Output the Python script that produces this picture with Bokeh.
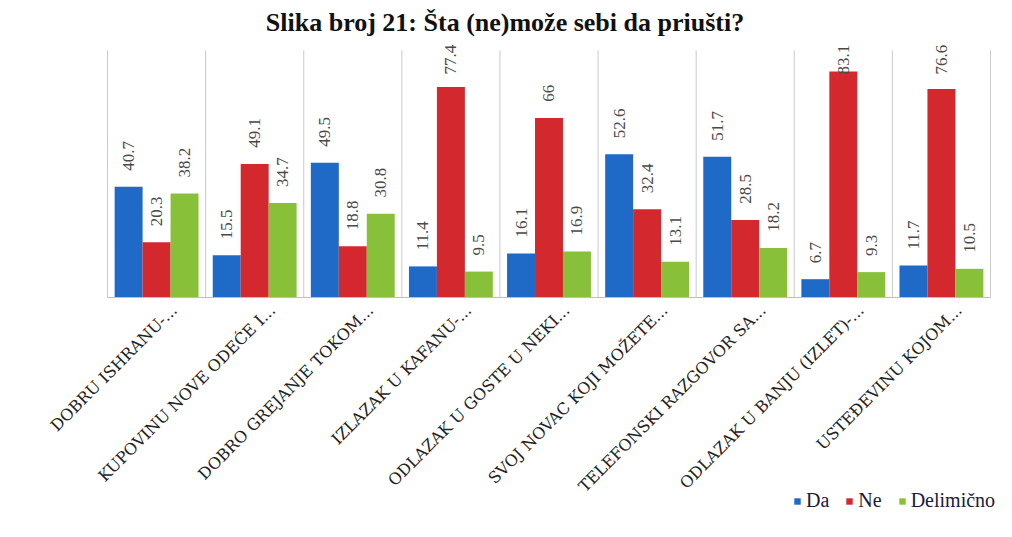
import numpy as np
from bokeh.plotting import figure
from bokeh.models import ColumnDataSource, Range1d, FixedTicker, Legend, LegendItem
from bokeh.core.properties import value
from bokeh.embed import file_html
from bokeh.resources import INLINE

categories = ["DOBRU ISHRANU-...", "KUPOVINU NOVE ODEĆE I...", "DOBRO GREJANJE TOKOM...",
              "IZLAZAK U KAFANU-...", "ODLAZAK U GOSTE U NEKI...", "SVOJ NOVAC KOJI MOŽETE...",
              "TELEFONSKI RAZGOVOR SA...", "ODLAZAK U BANJU (IZLET)-...", "USTEĐEVINU KOJOM..."]
da = [40.7, 15.5, 49.5, 11.4, 16.1, 52.6, 51.7, 6.7, 11.7]
ne = [20.3, 49.1, 18.8, 77.4, 66.0, 32.4, 28.5, 83.1, 76.6]
delimicno = [38.2, 34.7, 30.8, 9.5, 16.9, 13.1, 18.2, 9.3, 10.5]
series_names = ["Da", "Ne", "Delimično"]
colors = ["#1f6ac6", "#d3282e", "#88c03a"]

n = len(categories)
SEP_TOP = 90.8      # top of the plotting area (category separators)
Y_MAX = 95.2        # a little headroom so value labels are not clipped
Y_MIN = -83.5
X_MIN = -1.04
X_MAX = n + 0.143
idx = np.arange(n) + 0.5

p = figure(width=1004, height=529, output_backend="svg", toolbar_location=None,
           x_range=Range1d(X_MIN, X_MAX), y_range=Range1d(Y_MIN, Y_MAX),
           min_border_left=5, min_border_right=0, min_border_top=38, min_border_bottom=5)

p.title.text = "Slika broj 21: Šta (ne)može sebi da priušti?"
p.title.align = "center"
p.title.text_font = "Liberation Serif"
p.title.text_font_style = "bold"
p.title.text_font_size = "26px"
p.title.text_color = "#111111"
p.title.standoff = 4

# category separators
sep = np.arange(n + 1)
p.segment(x0=sep, y0=np.zeros(n + 1), x1=sep, y1=np.full(n + 1, SEP_TOP),
          line_color="#c9c9c9", line_width=1)

offsets = [-0.285, 0.0, 0.285]
bar_w = 0.285
renderers = []
for vals, off, col, name in zip([da, ne, delimicno], offsets, colors, series_names):
    v = np.array(vals)
    src = ColumnDataSource(dict(x=idx + off, top=v,
                                ly=np.minimum(v + 5.9, 82.0),
                                lbl=["%g" % x for x in v]))
    r = p.vbar(x="x", top="top", width=bar_w, source=src, fill_color=col, line_color=None)
    renderers.append((name, r))
    p.text(x="x", y="ly", text="lbl", source=src, angle=np.pi / 2,
           text_align="left", text_baseline="middle",
           text_font=value("Liberation Serif"), text_font_size="17px", text_color="#4a4a4a")

p.yaxis.visible = False
p.ygrid.visible = False
p.xgrid.visible = False
p.outline_line_color = None

label_pos = idx + 0.18
p.xaxis.fixed_location = 0
p.xaxis.bounds = (0, n)
p.xaxis.ticker = FixedTicker(ticks=list(label_pos))
p.xaxis.major_label_overrides = {float(t): c for t, c in zip(label_pos, categories)}
p.xaxis.major_label_orientation = np.pi / 4
p.xaxis.major_label_text_font = "DejaVu Serif"
p.xaxis.major_label_text_font_size = "16px"
p.xaxis.major_label_text_color = "#222222"
p.xaxis.major_tick_line_color = None
p.xaxis.minor_tick_line_color = None
p.xaxis.axis_line_color = "#bfbfbf"
p.xaxis.major_label_standoff = 4

legend = Legend(items=[LegendItem(label=nm, renderers=[r]) for nm, r in renderers],
                orientation="horizontal", location=(788, 12),
                label_text_font="Liberation Serif", label_text_font_size="20px",
                label_text_color="#1a1a3a", glyph_width=8, glyph_height=8,
                spacing=16, label_standoff=5, padding=2, margin=0,
                border_line_color=None, background_fill_alpha=0)
p.add_layout(legend, "center")

open("out.html", "w").write(file_html(p, INLINE))
